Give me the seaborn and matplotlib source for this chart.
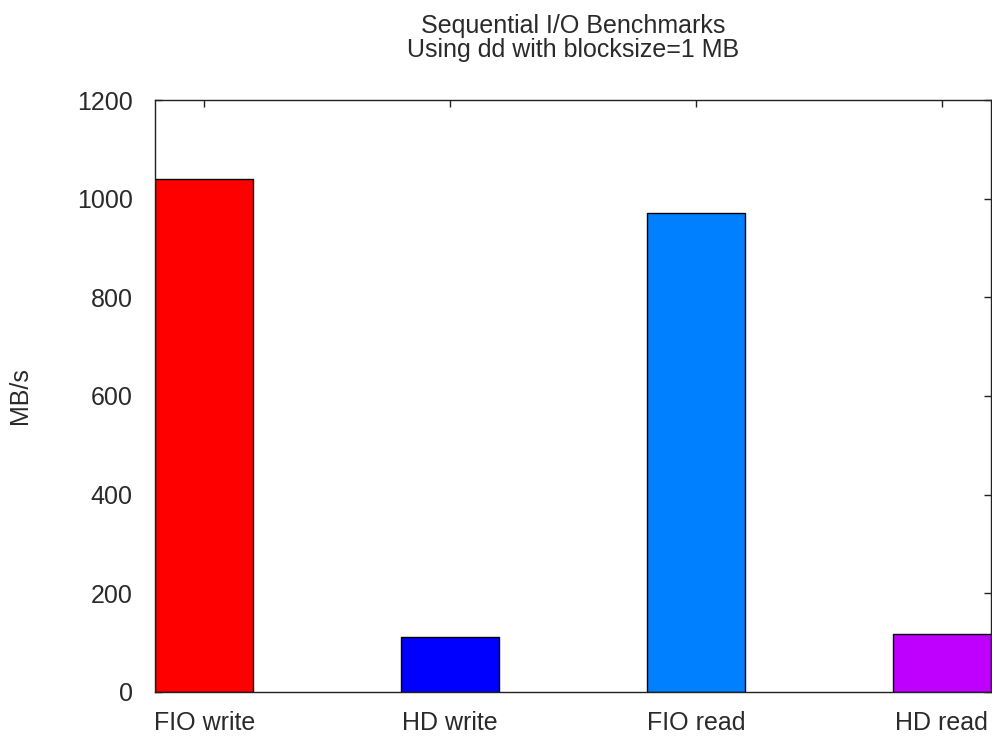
import matplotlib
matplotlib.use("Agg")
import matplotlib.pyplot as plt
import seaborn as sns
import pandas as pd

# Datos de los benchmarks (MB/s)
tests = ['FIO write', 'HD write', 'FIO read', 'HD read']
speeds = [1040, 112, 970, 118]
colors = ['#ff0000', '#0000ff', '#0080ff', '#c000ff']

sns.set_theme(style="ticks")
plt.rcParams['font.family'] = ['Liberation Sans', 'DejaVu Sans']
plt.rcParams['xtick.direction'] = 'in'
plt.rcParams['ytick.direction'] = 'in'

df = pd.DataFrame({'Test': tests, 'Speed': speeds})

fig = plt.figure(figsize=(9.92, 7.37), dpi=100)
ax = fig.add_axes([0.1562, 0.0611, 0.8428, 0.8032])

sns.barplot(data=df, x='Test', y='Speed', hue='Test', palette=colors,
            saturation=1, width=0.4, edgecolor='black', linewidth=1,
            legend=False, ax=ax)

ax.set_xlim(-0.2, 3.2)
ax.set_ylim(0, 1200)
ax.set_yticks(range(0, 1201, 200))
ax.set_xlabel('')
ax.set_ylabel('MB/s', fontsize=18, color='#2a2a2a')
ax.yaxis.set_label_coords(-0.147, 0.5)
ax.set_title('Sequential I/O Benchmarks\nUsing dd with blocksize=1 MB',
             fontsize=18, pad=31, color='#2a2a2a', linespacing=1.0)

ax.tick_params(top=True, right=True, length=5, width=1, color='#222222',
               labelsize=18, labelcolor='#2a2a2a')
ax.tick_params(axis='y', pad=16)
ax.tick_params(axis='x', pad=14)
for s in ax.spines.values():
    s.set_linewidth(1)
    s.set_color('#222222')

plt.savefig('out.png', dpi=100)
